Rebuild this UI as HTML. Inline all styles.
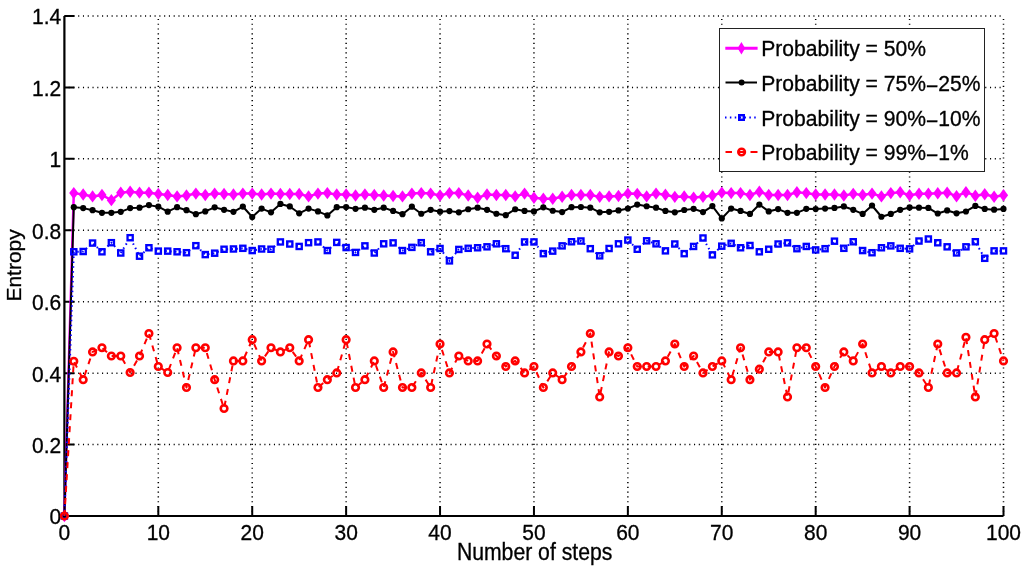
<!DOCTYPE html><html><head><meta charset="utf-8"><style>html,body{margin:0;padding:0;background:#fff;overflow:hidden;}svg{display:block;will-change:transform;}text{font-family:"Liberation Sans",sans-serif;fill:#000;stroke:#000;stroke-width:0.3px;}</style></head><body>
<svg width="1024" height="570" viewBox="0 0 1024 570">
<path d="M158.31 516.0V16.0M252.22 516.0V16.0M346.13 516.0V16.0M440.04 516.0V16.0M533.95 516.0V16.0M627.86 516.0V16.0M721.77 516.0V16.0M815.68 516.0V16.0M909.59 516.0V16.0M1003.50 516.0V16.0M64.4 444.57H1003.5M64.4 373.14H1003.5M64.4 301.71H1003.5M64.4 230.29H1003.5M64.4 158.86H1003.5M64.4 87.43H1003.5M64.4 16.00H1003.5" stroke="#000" stroke-width="1.5" stroke-dasharray="1.1 3.674" stroke-dashoffset="0.55" fill="none"/>
<path d="M64.40 516.0v-10M158.31 516.0v-10M252.22 516.0v-10M346.13 516.0v-10M440.04 516.0v-10M533.95 516.0v-10M627.86 516.0v-10M721.77 516.0v-10M815.68 516.0v-10M909.59 516.0v-10M1003.50 516.0v-10M64.4 516.00h10M64.4 444.57h10M64.4 373.14h10M64.4 301.71h10M64.4 230.29h10M64.4 158.86h10M64.4 87.43h10M64.4 16.00h10" stroke="#000" stroke-width="2" fill="none"/>
<path d="M64.4 16.0V516.0H1003.5" stroke="#000" stroke-width="2.2" fill="none"/>
<text transform="translate(64.40 539.90) scale(1.0 1.045)" font-size="21" text-anchor="middle">0</text>
<text transform="translate(158.31 539.90) scale(1.0 1.045)" font-size="21" text-anchor="middle">10</text>
<text transform="translate(252.22 539.90) scale(1.0 1.045)" font-size="21" text-anchor="middle">20</text>
<text transform="translate(346.13 539.90) scale(1.0 1.045)" font-size="21" text-anchor="middle">30</text>
<text transform="translate(440.04 539.90) scale(1.0 1.045)" font-size="21" text-anchor="middle">40</text>
<text transform="translate(533.95 539.90) scale(1.0 1.045)" font-size="21" text-anchor="middle">50</text>
<text transform="translate(627.86 539.90) scale(1.0 1.045)" font-size="21" text-anchor="middle">60</text>
<text transform="translate(721.77 539.90) scale(1.0 1.045)" font-size="21" text-anchor="middle">70</text>
<text transform="translate(815.68 539.90) scale(1.0 1.045)" font-size="21" text-anchor="middle">80</text>
<text transform="translate(909.59 539.90) scale(1.0 1.045)" font-size="21" text-anchor="middle">90</text>
<text transform="translate(1003.50 539.90) scale(1.0 1.045)" font-size="21" text-anchor="middle">100</text>
<text transform="translate(61.30 524.40) scale(1.0 1.045)" font-size="21" text-anchor="end">0</text>
<text transform="translate(61.30 452.97) scale(1.0 1.045)" font-size="21" text-anchor="end">0.2</text>
<text transform="translate(61.30 381.54) scale(1.0 1.045)" font-size="21" text-anchor="end">0.4</text>
<text transform="translate(61.30 310.11) scale(1.0 1.045)" font-size="21" text-anchor="end">0.6</text>
<text transform="translate(61.30 238.69) scale(1.0 1.045)" font-size="21" text-anchor="end">0.8</text>
<text transform="translate(61.30 167.26) scale(1.0 1.045)" font-size="21" text-anchor="end">1</text>
<text transform="translate(61.30 95.83) scale(1.0 1.045)" font-size="21" text-anchor="end">1.2</text>
<text transform="translate(61.30 24.40) scale(1.0 1.045)" font-size="21" text-anchor="end">1.4</text>
<text transform="translate(534.60 559.50) scale(1.0 1.09)" font-size="21.2" text-anchor="middle">Number of steps</text>
<text transform="translate(21.00 265.40) rotate(-90)" font-size="21.0" text-anchor="middle">Entropy</text>
<path d="M64.40 516.00 L73.79 193.12 L83.18 194.53 L92.57 196.41 L101.96 195.00 L111.36 200.16 L120.75 192.66 L130.14 191.72 L139.53 192.66 L148.92 192.66 L158.31 194.06 L167.70 195.00 L177.09 196.41 L186.48 195.47 L195.87 193.59 L205.27 195.00 L214.66 193.59 L224.05 194.06 L233.44 194.53 L242.83 193.59 L252.22 193.59 L261.61 194.53 L271.00 193.59 L280.39 194.06 L289.78 194.06 L299.18 194.06 L308.57 196.41 L317.96 193.59 L327.35 193.12 L336.74 194.53 L346.13 194.53 L355.52 195.47 L364.91 194.53 L374.30 195.00 L383.69 195.47 L393.09 195.94 L402.48 196.41 L411.87 193.59 L421.26 193.12 L430.65 193.59 L440.04 195.47 L449.43 193.12 L458.82 193.12 L468.21 195.47 L477.60 197.81 L487.00 194.53 L496.39 195.00 L505.78 195.00 L515.17 196.41 L524.56 193.59 L533.95 197.81 L543.34 198.75 L552.73 198.75 L562.12 196.69 L571.51 195.00 L580.90 195.00 L590.30 195.00 L599.69 196.87 L609.08 196.41 L618.47 195.94 L627.86 193.59 L637.25 193.87 L646.64 196.41 L656.03 193.59 L665.42 194.81 L674.81 196.87 L684.21 196.41 L693.60 197.62 L702.99 196.87 L712.38 195.47 L721.77 192.66 L731.16 193.12 L740.55 193.12 L749.94 195.00 L759.33 191.72 L768.73 195.00 L778.12 195.00 L787.51 195.00 L796.90 192.19 L806.29 193.12 L815.68 194.53 L825.07 194.53 L834.46 194.53 L843.85 195.47 L853.24 193.87 L862.63 195.00 L872.03 193.59 L881.42 196.41 L890.81 193.12 L900.20 192.19 L909.59 195.23 L918.98 193.71 L928.37 193.71 L937.76 193.20 L947.15 192.70 L956.54 196.25 L965.94 192.19 L975.33 195.74 L984.72 194.22 L994.11 196.76 L1003.50 195.23" stroke="#f0f" stroke-width="2.5" fill="none" stroke-linejoin="round"/>
<path d="M64.40 509.80L69.00 516.00L64.40 522.20L59.80 516.00Z" fill="#f0f"/>
<path d="M73.79 186.92L78.39 193.12L73.79 199.32L69.19 193.12Z" fill="#f0f"/>
<path d="M83.18 188.33L87.78 194.53L83.18 200.73L78.58 194.53Z" fill="#f0f"/>
<path d="M92.57 190.21L97.17 196.41L92.57 202.61L87.97 196.41Z" fill="#f0f"/>
<path d="M101.96 188.80L106.56 195.00L101.96 201.20L97.36 195.00Z" fill="#f0f"/>
<path d="M111.36 193.96L115.95 200.16L111.36 206.36L106.76 200.16Z" fill="#f0f"/>
<path d="M120.75 186.46L125.35 192.66L120.75 198.86L116.15 192.66Z" fill="#f0f"/>
<path d="M130.14 185.52L134.74 191.72L130.14 197.92L125.54 191.72Z" fill="#f0f"/>
<path d="M139.53 186.46L144.13 192.66L139.53 198.86L134.93 192.66Z" fill="#f0f"/>
<path d="M148.92 186.46L153.52 192.66L148.92 198.86L144.32 192.66Z" fill="#f0f"/>
<path d="M158.31 187.86L162.91 194.06L158.31 200.26L153.71 194.06Z" fill="#f0f"/>
<path d="M167.70 188.80L172.30 195.00L167.70 201.20L163.10 195.00Z" fill="#f0f"/>
<path d="M177.09 190.21L181.69 196.41L177.09 202.61L172.49 196.41Z" fill="#f0f"/>
<path d="M186.48 189.27L191.08 195.47L186.48 201.67L181.88 195.47Z" fill="#f0f"/>
<path d="M195.87 187.39L200.47 193.59L195.87 199.79L191.27 193.59Z" fill="#f0f"/>
<path d="M205.27 188.80L209.87 195.00L205.27 201.20L200.67 195.00Z" fill="#f0f"/>
<path d="M214.66 187.39L219.26 193.59L214.66 199.79L210.06 193.59Z" fill="#f0f"/>
<path d="M224.05 187.86L228.65 194.06L224.05 200.26L219.45 194.06Z" fill="#f0f"/>
<path d="M233.44 188.33L238.04 194.53L233.44 200.73L228.84 194.53Z" fill="#f0f"/>
<path d="M242.83 187.39L247.43 193.59L242.83 199.79L238.23 193.59Z" fill="#f0f"/>
<path d="M252.22 187.39L256.82 193.59L252.22 199.79L247.62 193.59Z" fill="#f0f"/>
<path d="M261.61 188.33L266.21 194.53L261.61 200.73L257.01 194.53Z" fill="#f0f"/>
<path d="M271.00 187.39L275.60 193.59L271.00 199.79L266.40 193.59Z" fill="#f0f"/>
<path d="M280.39 187.86L284.99 194.06L280.39 200.26L275.79 194.06Z" fill="#f0f"/>
<path d="M289.78 187.86L294.38 194.06L289.78 200.26L285.18 194.06Z" fill="#f0f"/>
<path d="M299.18 187.86L303.78 194.06L299.18 200.26L294.57 194.06Z" fill="#f0f"/>
<path d="M308.57 190.21L313.17 196.41L308.57 202.61L303.97 196.41Z" fill="#f0f"/>
<path d="M317.96 187.39L322.56 193.59L317.96 199.79L313.36 193.59Z" fill="#f0f"/>
<path d="M327.35 186.92L331.95 193.12L327.35 199.32L322.75 193.12Z" fill="#f0f"/>
<path d="M336.74 188.33L341.34 194.53L336.74 200.73L332.14 194.53Z" fill="#f0f"/>
<path d="M346.13 188.33L350.73 194.53L346.13 200.73L341.53 194.53Z" fill="#f0f"/>
<path d="M355.52 189.27L360.12 195.47L355.52 201.67L350.92 195.47Z" fill="#f0f"/>
<path d="M364.91 188.33L369.51 194.53L364.91 200.73L360.31 194.53Z" fill="#f0f"/>
<path d="M374.30 188.80L378.90 195.00L374.30 201.20L369.70 195.00Z" fill="#f0f"/>
<path d="M383.69 189.27L388.29 195.47L383.69 201.67L379.09 195.47Z" fill="#f0f"/>
<path d="M393.09 189.74L397.69 195.94L393.09 202.14L388.49 195.94Z" fill="#f0f"/>
<path d="M402.48 190.21L407.08 196.41L402.48 202.61L397.88 196.41Z" fill="#f0f"/>
<path d="M411.87 187.39L416.47 193.59L411.87 199.79L407.27 193.59Z" fill="#f0f"/>
<path d="M421.26 186.92L425.86 193.12L421.26 199.32L416.66 193.12Z" fill="#f0f"/>
<path d="M430.65 187.39L435.25 193.59L430.65 199.79L426.05 193.59Z" fill="#f0f"/>
<path d="M440.04 189.27L444.64 195.47L440.04 201.67L435.44 195.47Z" fill="#f0f"/>
<path d="M449.43 186.92L454.03 193.12L449.43 199.32L444.83 193.12Z" fill="#f0f"/>
<path d="M458.82 186.92L463.42 193.12L458.82 199.32L454.22 193.12Z" fill="#f0f"/>
<path d="M468.21 189.27L472.81 195.47L468.21 201.67L463.61 195.47Z" fill="#f0f"/>
<path d="M477.60 191.61L482.20 197.81L477.60 204.01L473.00 197.81Z" fill="#f0f"/>
<path d="M487.00 188.33L491.60 194.53L487.00 200.73L482.39 194.53Z" fill="#f0f"/>
<path d="M496.39 188.80L500.99 195.00L496.39 201.20L491.79 195.00Z" fill="#f0f"/>
<path d="M505.78 188.80L510.38 195.00L505.78 201.20L501.18 195.00Z" fill="#f0f"/>
<path d="M515.17 190.21L519.77 196.41L515.17 202.61L510.57 196.41Z" fill="#f0f"/>
<path d="M524.56 187.39L529.16 193.59L524.56 199.79L519.96 193.59Z" fill="#f0f"/>
<path d="M533.95 191.61L538.55 197.81L533.95 204.01L529.35 197.81Z" fill="#f0f"/>
<path d="M543.34 192.55L547.94 198.75L543.34 204.95L538.74 198.75Z" fill="#f0f"/>
<path d="M552.73 192.55L557.33 198.75L552.73 204.95L548.13 198.75Z" fill="#f0f"/>
<path d="M562.12 190.49L566.72 196.69L562.12 202.89L557.52 196.69Z" fill="#f0f"/>
<path d="M571.51 188.80L576.11 195.00L571.51 201.20L566.91 195.00Z" fill="#f0f"/>
<path d="M580.90 188.80L585.50 195.00L580.90 201.20L576.30 195.00Z" fill="#f0f"/>
<path d="M590.30 188.80L594.90 195.00L590.30 201.20L585.70 195.00Z" fill="#f0f"/>
<path d="M599.69 190.67L604.29 196.87L599.69 203.07L595.09 196.87Z" fill="#f0f"/>
<path d="M609.08 190.21L613.68 196.41L609.08 202.61L604.48 196.41Z" fill="#f0f"/>
<path d="M618.47 189.74L623.07 195.94L618.47 202.14L613.87 195.94Z" fill="#f0f"/>
<path d="M627.86 187.39L632.46 193.59L627.86 199.79L623.26 193.59Z" fill="#f0f"/>
<path d="M637.25 187.67L641.85 193.87L637.25 200.07L632.65 193.87Z" fill="#f0f"/>
<path d="M646.64 190.21L651.24 196.41L646.64 202.61L642.04 196.41Z" fill="#f0f"/>
<path d="M656.03 187.39L660.63 193.59L656.03 199.79L651.43 193.59Z" fill="#f0f"/>
<path d="M665.42 188.61L670.02 194.81L665.42 201.01L660.82 194.81Z" fill="#f0f"/>
<path d="M674.81 190.67L679.41 196.87L674.81 203.07L670.21 196.87Z" fill="#f0f"/>
<path d="M684.21 190.21L688.81 196.41L684.21 202.61L679.61 196.41Z" fill="#f0f"/>
<path d="M693.60 191.42L698.20 197.62L693.60 203.82L689.00 197.62Z" fill="#f0f"/>
<path d="M702.99 190.67L707.59 196.87L702.99 203.07L698.39 196.87Z" fill="#f0f"/>
<path d="M712.38 189.27L716.98 195.47L712.38 201.67L707.78 195.47Z" fill="#f0f"/>
<path d="M721.77 186.46L726.37 192.66L721.77 198.86L717.17 192.66Z" fill="#f0f"/>
<path d="M731.16 186.92L735.76 193.12L731.16 199.32L726.56 193.12Z" fill="#f0f"/>
<path d="M740.55 186.92L745.15 193.12L740.55 199.32L735.95 193.12Z" fill="#f0f"/>
<path d="M749.94 188.80L754.54 195.00L749.94 201.20L745.34 195.00Z" fill="#f0f"/>
<path d="M759.33 185.52L763.93 191.72L759.33 197.92L754.73 191.72Z" fill="#f0f"/>
<path d="M768.73 188.80L773.33 195.00L768.73 201.20L764.12 195.00Z" fill="#f0f"/>
<path d="M778.12 188.80L782.72 195.00L778.12 201.20L773.52 195.00Z" fill="#f0f"/>
<path d="M787.51 188.80L792.11 195.00L787.51 201.20L782.91 195.00Z" fill="#f0f"/>
<path d="M796.90 185.99L801.50 192.19L796.90 198.39L792.30 192.19Z" fill="#f0f"/>
<path d="M806.29 186.92L810.89 193.12L806.29 199.32L801.69 193.12Z" fill="#f0f"/>
<path d="M815.68 188.33L820.28 194.53L815.68 200.73L811.08 194.53Z" fill="#f0f"/>
<path d="M825.07 188.33L829.67 194.53L825.07 200.73L820.47 194.53Z" fill="#f0f"/>
<path d="M834.46 188.33L839.06 194.53L834.46 200.73L829.86 194.53Z" fill="#f0f"/>
<path d="M843.85 189.27L848.45 195.47L843.85 201.67L839.25 195.47Z" fill="#f0f"/>
<path d="M853.24 187.67L857.84 193.87L853.24 200.07L848.64 193.87Z" fill="#f0f"/>
<path d="M862.63 188.80L867.24 195.00L862.63 201.20L858.03 195.00Z" fill="#f0f"/>
<path d="M872.03 187.39L876.63 193.59L872.03 199.79L867.43 193.59Z" fill="#f0f"/>
<path d="M881.42 190.21L886.02 196.41L881.42 202.61L876.82 196.41Z" fill="#f0f"/>
<path d="M890.81 186.92L895.41 193.12L890.81 199.32L886.21 193.12Z" fill="#f0f"/>
<path d="M900.20 185.99L904.80 192.19L900.20 198.39L895.60 192.19Z" fill="#f0f"/>
<path d="M909.59 189.03L914.19 195.23L909.59 201.43L904.99 195.23Z" fill="#f0f"/>
<path d="M918.98 187.51L923.58 193.71L918.98 199.91L914.38 193.71Z" fill="#f0f"/>
<path d="M928.37 187.51L932.97 193.71L928.37 199.91L923.77 193.71Z" fill="#f0f"/>
<path d="M937.76 187.00L942.36 193.20L937.76 199.40L933.16 193.20Z" fill="#f0f"/>
<path d="M947.15 186.50L951.75 192.70L947.15 198.90L942.55 192.70Z" fill="#f0f"/>
<path d="M956.54 190.05L961.14 196.25L956.54 202.45L951.94 196.25Z" fill="#f0f"/>
<path d="M965.94 185.99L970.54 192.19L965.94 198.39L961.34 192.19Z" fill="#f0f"/>
<path d="M975.33 189.54L979.93 195.74L975.33 201.94L970.73 195.74Z" fill="#f0f"/>
<path d="M984.72 188.02L989.32 194.22L984.72 200.42L980.12 194.22Z" fill="#f0f"/>
<path d="M994.11 190.56L998.71 196.76L994.11 202.96L989.51 196.76Z" fill="#f0f"/>
<path d="M1003.50 189.03L1008.10 195.23L1003.50 201.43L998.90 195.23Z" fill="#f0f"/>
<path d="M64.40 516.00 L73.79 207.19 L83.18 208.12 L92.57 210.19 L101.96 212.81 L111.36 212.81 L120.75 211.87 L130.14 208.12 L139.53 207.66 L148.92 205.12 L158.31 206.72 L167.70 211.69 L177.09 207.19 L186.48 210.19 L195.87 214.22 L205.27 211.41 L214.66 207.37 L224.05 209.81 L233.44 211.87 L242.83 206.53 L252.22 217.03 L261.61 208.59 L271.00 212.34 L280.39 203.91 L289.78 206.44 L299.18 213.28 L308.57 208.59 L317.96 211.41 L327.35 215.44 L336.74 207.19 L346.13 207.00 L355.52 208.87 L364.91 207.66 L374.30 209.81 L383.69 207.66 L393.09 210.94 L402.48 214.22 L411.87 206.72 L421.26 213.75 L430.65 209.81 L440.04 211.69 L449.43 211.12 L458.82 212.34 L468.21 209.25 L477.60 207.66 L487.00 209.81 L496.39 213.75 L505.78 215.16 L515.17 209.25 L524.56 210.94 L533.95 211.41 L543.34 207.37 L552.73 210.75 L562.12 212.06 L571.51 207.19 L580.90 207.00 L590.30 207.66 L599.69 212.34 L609.08 211.87 L618.47 210.47 L627.86 208.59 L637.25 204.56 L646.64 206.25 L656.03 207.66 L665.42 210.94 L674.81 212.34 L684.21 210.00 L693.60 208.87 L702.99 212.06 L712.38 206.06 L721.77 218.44 L731.16 208.59 L740.55 210.94 L749.94 213.94 L759.33 204.56 L768.73 211.41 L778.12 209.06 L787.51 212.81 L796.90 212.81 L806.29 208.87 L815.68 209.06 L825.07 208.59 L834.46 207.94 L843.85 206.44 L853.24 209.81 L862.63 213.94 L872.03 205.50 L881.42 216.75 L890.81 213.94 L900.20 209.81 L909.59 207.42 L918.98 207.63 L928.37 207.93 L937.76 213.52 L947.15 210.47 L956.54 213.31 L965.94 211.48 L975.33 205.90 L984.72 208.95 L994.11 209.66 L1003.50 208.95" stroke="#000" stroke-width="2" fill="none" stroke-linejoin="round"/>
<circle cx="64.40" cy="516.00" r="3.1" fill="#000"/>
<circle cx="73.79" cy="207.19" r="3.1" fill="#000"/>
<circle cx="83.18" cy="208.12" r="3.1" fill="#000"/>
<circle cx="92.57" cy="210.19" r="3.1" fill="#000"/>
<circle cx="101.96" cy="212.81" r="3.1" fill="#000"/>
<circle cx="111.36" cy="212.81" r="3.1" fill="#000"/>
<circle cx="120.75" cy="211.87" r="3.1" fill="#000"/>
<circle cx="130.14" cy="208.12" r="3.1" fill="#000"/>
<circle cx="139.53" cy="207.66" r="3.1" fill="#000"/>
<circle cx="148.92" cy="205.12" r="3.1" fill="#000"/>
<circle cx="158.31" cy="206.72" r="3.1" fill="#000"/>
<circle cx="167.70" cy="211.69" r="3.1" fill="#000"/>
<circle cx="177.09" cy="207.19" r="3.1" fill="#000"/>
<circle cx="186.48" cy="210.19" r="3.1" fill="#000"/>
<circle cx="195.87" cy="214.22" r="3.1" fill="#000"/>
<circle cx="205.27" cy="211.41" r="3.1" fill="#000"/>
<circle cx="214.66" cy="207.37" r="3.1" fill="#000"/>
<circle cx="224.05" cy="209.81" r="3.1" fill="#000"/>
<circle cx="233.44" cy="211.87" r="3.1" fill="#000"/>
<circle cx="242.83" cy="206.53" r="3.1" fill="#000"/>
<circle cx="252.22" cy="217.03" r="3.1" fill="#000"/>
<circle cx="261.61" cy="208.59" r="3.1" fill="#000"/>
<circle cx="271.00" cy="212.34" r="3.1" fill="#000"/>
<circle cx="280.39" cy="203.91" r="3.1" fill="#000"/>
<circle cx="289.78" cy="206.44" r="3.1" fill="#000"/>
<circle cx="299.18" cy="213.28" r="3.1" fill="#000"/>
<circle cx="308.57" cy="208.59" r="3.1" fill="#000"/>
<circle cx="317.96" cy="211.41" r="3.1" fill="#000"/>
<circle cx="327.35" cy="215.44" r="3.1" fill="#000"/>
<circle cx="336.74" cy="207.19" r="3.1" fill="#000"/>
<circle cx="346.13" cy="207.00" r="3.1" fill="#000"/>
<circle cx="355.52" cy="208.87" r="3.1" fill="#000"/>
<circle cx="364.91" cy="207.66" r="3.1" fill="#000"/>
<circle cx="374.30" cy="209.81" r="3.1" fill="#000"/>
<circle cx="383.69" cy="207.66" r="3.1" fill="#000"/>
<circle cx="393.09" cy="210.94" r="3.1" fill="#000"/>
<circle cx="402.48" cy="214.22" r="3.1" fill="#000"/>
<circle cx="411.87" cy="206.72" r="3.1" fill="#000"/>
<circle cx="421.26" cy="213.75" r="3.1" fill="#000"/>
<circle cx="430.65" cy="209.81" r="3.1" fill="#000"/>
<circle cx="440.04" cy="211.69" r="3.1" fill="#000"/>
<circle cx="449.43" cy="211.12" r="3.1" fill="#000"/>
<circle cx="458.82" cy="212.34" r="3.1" fill="#000"/>
<circle cx="468.21" cy="209.25" r="3.1" fill="#000"/>
<circle cx="477.60" cy="207.66" r="3.1" fill="#000"/>
<circle cx="487.00" cy="209.81" r="3.1" fill="#000"/>
<circle cx="496.39" cy="213.75" r="3.1" fill="#000"/>
<circle cx="505.78" cy="215.16" r="3.1" fill="#000"/>
<circle cx="515.17" cy="209.25" r="3.1" fill="#000"/>
<circle cx="524.56" cy="210.94" r="3.1" fill="#000"/>
<circle cx="533.95" cy="211.41" r="3.1" fill="#000"/>
<circle cx="543.34" cy="207.37" r="3.1" fill="#000"/>
<circle cx="552.73" cy="210.75" r="3.1" fill="#000"/>
<circle cx="562.12" cy="212.06" r="3.1" fill="#000"/>
<circle cx="571.51" cy="207.19" r="3.1" fill="#000"/>
<circle cx="580.90" cy="207.00" r="3.1" fill="#000"/>
<circle cx="590.30" cy="207.66" r="3.1" fill="#000"/>
<circle cx="599.69" cy="212.34" r="3.1" fill="#000"/>
<circle cx="609.08" cy="211.87" r="3.1" fill="#000"/>
<circle cx="618.47" cy="210.47" r="3.1" fill="#000"/>
<circle cx="627.86" cy="208.59" r="3.1" fill="#000"/>
<circle cx="637.25" cy="204.56" r="3.1" fill="#000"/>
<circle cx="646.64" cy="206.25" r="3.1" fill="#000"/>
<circle cx="656.03" cy="207.66" r="3.1" fill="#000"/>
<circle cx="665.42" cy="210.94" r="3.1" fill="#000"/>
<circle cx="674.81" cy="212.34" r="3.1" fill="#000"/>
<circle cx="684.21" cy="210.00" r="3.1" fill="#000"/>
<circle cx="693.60" cy="208.87" r="3.1" fill="#000"/>
<circle cx="702.99" cy="212.06" r="3.1" fill="#000"/>
<circle cx="712.38" cy="206.06" r="3.1" fill="#000"/>
<circle cx="721.77" cy="218.44" r="3.1" fill="#000"/>
<circle cx="731.16" cy="208.59" r="3.1" fill="#000"/>
<circle cx="740.55" cy="210.94" r="3.1" fill="#000"/>
<circle cx="749.94" cy="213.94" r="3.1" fill="#000"/>
<circle cx="759.33" cy="204.56" r="3.1" fill="#000"/>
<circle cx="768.73" cy="211.41" r="3.1" fill="#000"/>
<circle cx="778.12" cy="209.06" r="3.1" fill="#000"/>
<circle cx="787.51" cy="212.81" r="3.1" fill="#000"/>
<circle cx="796.90" cy="212.81" r="3.1" fill="#000"/>
<circle cx="806.29" cy="208.87" r="3.1" fill="#000"/>
<circle cx="815.68" cy="209.06" r="3.1" fill="#000"/>
<circle cx="825.07" cy="208.59" r="3.1" fill="#000"/>
<circle cx="834.46" cy="207.94" r="3.1" fill="#000"/>
<circle cx="843.85" cy="206.44" r="3.1" fill="#000"/>
<circle cx="853.24" cy="209.81" r="3.1" fill="#000"/>
<circle cx="862.63" cy="213.94" r="3.1" fill="#000"/>
<circle cx="872.03" cy="205.50" r="3.1" fill="#000"/>
<circle cx="881.42" cy="216.75" r="3.1" fill="#000"/>
<circle cx="890.81" cy="213.94" r="3.1" fill="#000"/>
<circle cx="900.20" cy="209.81" r="3.1" fill="#000"/>
<circle cx="909.59" cy="207.42" r="3.1" fill="#000"/>
<circle cx="918.98" cy="207.63" r="3.1" fill="#000"/>
<circle cx="928.37" cy="207.93" r="3.1" fill="#000"/>
<circle cx="937.76" cy="213.52" r="3.1" fill="#000"/>
<circle cx="947.15" cy="210.47" r="3.1" fill="#000"/>
<circle cx="956.54" cy="213.31" r="3.1" fill="#000"/>
<circle cx="965.94" cy="211.48" r="3.1" fill="#000"/>
<circle cx="975.33" cy="205.90" r="3.1" fill="#000"/>
<circle cx="984.72" cy="208.95" r="3.1" fill="#000"/>
<circle cx="994.11" cy="209.66" r="3.1" fill="#000"/>
<circle cx="1003.50" cy="208.95" r="3.1" fill="#000"/>
<path d="M64.40 516.00 L73.79 251.78 L83.18 251.50 L92.57 243.06 L101.96 251.78 L111.36 242.69 L120.75 253.00 L130.14 237.72 L139.53 256.19 L148.92 247.75 L158.31 251.12 L167.70 251.12 L177.09 251.78 L186.48 252.72 L195.87 245.69 L205.27 254.59 L214.66 253.19 L224.05 249.25 L233.44 248.97 L242.83 248.31 L252.22 250.56 L261.61 248.97 L271.00 249.25 L280.39 241.94 L289.78 244.00 L299.18 246.44 L308.57 242.69 L317.96 241.94 L327.35 250.56 L336.74 242.41 L346.13 247.56 L355.52 252.44 L364.91 245.87 L374.30 253.00 L383.69 243.81 L393.09 242.87 L402.48 250.56 L411.87 247.37 L421.26 242.69 L430.65 251.78 L440.04 248.50 L449.43 260.87 L458.82 249.44 L468.21 248.31 L477.60 247.75 L487.00 246.81 L496.39 243.81 L505.78 248.69 L515.17 255.25 L524.56 241.94 L533.95 241.94 L543.34 253.66 L552.73 251.12 L562.12 245.87 L571.51 241.75 L580.90 241.00 L590.30 248.69 L599.69 255.81 L609.08 248.50 L618.47 243.81 L627.86 240.06 L637.25 249.25 L646.64 240.81 L656.03 243.81 L665.42 250.84 L674.81 244.00 L684.21 253.66 L693.60 246.44 L702.99 238.00 L712.38 254.87 L721.77 246.16 L731.16 243.34 L740.55 247.75 L749.94 245.50 L759.33 251.78 L768.73 249.25 L778.12 244.00 L787.51 242.87 L796.90 248.69 L806.29 246.44 L815.68 249.91 L825.07 248.69 L834.46 241.19 L843.85 248.31 L853.24 241.75 L862.63 250.56 L872.03 252.72 L881.42 247.75 L890.81 245.87 L900.20 248.31 L909.59 248.85 L918.98 241.03 L928.37 239.00 L937.76 242.76 L947.15 246.82 L956.54 252.91 L965.94 246.82 L975.33 241.74 L984.72 258.30 L994.11 250.88 L1003.50 250.88" stroke="#00f" stroke-width="2" fill="none" stroke-linejoin="round" stroke-dasharray="1.5 3.37"/>
<rect x="61.80" y="513.40" width="5.2" height="5.2" fill="none" stroke="#00f" stroke-width="2.3"/>
<rect x="71.19" y="249.18" width="5.2" height="5.2" fill="none" stroke="#00f" stroke-width="2.3"/>
<rect x="80.58" y="248.90" width="5.2" height="5.2" fill="none" stroke="#00f" stroke-width="2.3"/>
<rect x="89.97" y="240.46" width="5.2" height="5.2" fill="none" stroke="#00f" stroke-width="2.3"/>
<rect x="99.36" y="249.18" width="5.2" height="5.2" fill="none" stroke="#00f" stroke-width="2.3"/>
<rect x="108.76" y="240.09" width="5.2" height="5.2" fill="none" stroke="#00f" stroke-width="2.3"/>
<rect x="118.15" y="250.40" width="5.2" height="5.2" fill="none" stroke="#00f" stroke-width="2.3"/>
<rect x="127.54" y="235.12" width="5.2" height="5.2" fill="none" stroke="#00f" stroke-width="2.3"/>
<rect x="136.93" y="253.59" width="5.2" height="5.2" fill="none" stroke="#00f" stroke-width="2.3"/>
<rect x="146.32" y="245.15" width="5.2" height="5.2" fill="none" stroke="#00f" stroke-width="2.3"/>
<rect x="155.71" y="248.52" width="5.2" height="5.2" fill="none" stroke="#00f" stroke-width="2.3"/>
<rect x="165.10" y="248.52" width="5.2" height="5.2" fill="none" stroke="#00f" stroke-width="2.3"/>
<rect x="174.49" y="249.18" width="5.2" height="5.2" fill="none" stroke="#00f" stroke-width="2.3"/>
<rect x="183.88" y="250.12" width="5.2" height="5.2" fill="none" stroke="#00f" stroke-width="2.3"/>
<rect x="193.27" y="243.09" width="5.2" height="5.2" fill="none" stroke="#00f" stroke-width="2.3"/>
<rect x="202.67" y="251.99" width="5.2" height="5.2" fill="none" stroke="#00f" stroke-width="2.3"/>
<rect x="212.06" y="250.59" width="5.2" height="5.2" fill="none" stroke="#00f" stroke-width="2.3"/>
<rect x="221.45" y="246.65" width="5.2" height="5.2" fill="none" stroke="#00f" stroke-width="2.3"/>
<rect x="230.84" y="246.37" width="5.2" height="5.2" fill="none" stroke="#00f" stroke-width="2.3"/>
<rect x="240.23" y="245.71" width="5.2" height="5.2" fill="none" stroke="#00f" stroke-width="2.3"/>
<rect x="249.62" y="247.96" width="5.2" height="5.2" fill="none" stroke="#00f" stroke-width="2.3"/>
<rect x="259.01" y="246.37" width="5.2" height="5.2" fill="none" stroke="#00f" stroke-width="2.3"/>
<rect x="268.40" y="246.65" width="5.2" height="5.2" fill="none" stroke="#00f" stroke-width="2.3"/>
<rect x="277.79" y="239.34" width="5.2" height="5.2" fill="none" stroke="#00f" stroke-width="2.3"/>
<rect x="287.18" y="241.40" width="5.2" height="5.2" fill="none" stroke="#00f" stroke-width="2.3"/>
<rect x="296.57" y="243.84" width="5.2" height="5.2" fill="none" stroke="#00f" stroke-width="2.3"/>
<rect x="305.97" y="240.09" width="5.2" height="5.2" fill="none" stroke="#00f" stroke-width="2.3"/>
<rect x="315.36" y="239.34" width="5.2" height="5.2" fill="none" stroke="#00f" stroke-width="2.3"/>
<rect x="324.75" y="247.96" width="5.2" height="5.2" fill="none" stroke="#00f" stroke-width="2.3"/>
<rect x="334.14" y="239.81" width="5.2" height="5.2" fill="none" stroke="#00f" stroke-width="2.3"/>
<rect x="343.53" y="244.96" width="5.2" height="5.2" fill="none" stroke="#00f" stroke-width="2.3"/>
<rect x="352.92" y="249.84" width="5.2" height="5.2" fill="none" stroke="#00f" stroke-width="2.3"/>
<rect x="362.31" y="243.27" width="5.2" height="5.2" fill="none" stroke="#00f" stroke-width="2.3"/>
<rect x="371.70" y="250.40" width="5.2" height="5.2" fill="none" stroke="#00f" stroke-width="2.3"/>
<rect x="381.09" y="241.21" width="5.2" height="5.2" fill="none" stroke="#00f" stroke-width="2.3"/>
<rect x="390.49" y="240.27" width="5.2" height="5.2" fill="none" stroke="#00f" stroke-width="2.3"/>
<rect x="399.88" y="247.96" width="5.2" height="5.2" fill="none" stroke="#00f" stroke-width="2.3"/>
<rect x="409.27" y="244.77" width="5.2" height="5.2" fill="none" stroke="#00f" stroke-width="2.3"/>
<rect x="418.66" y="240.09" width="5.2" height="5.2" fill="none" stroke="#00f" stroke-width="2.3"/>
<rect x="428.05" y="249.18" width="5.2" height="5.2" fill="none" stroke="#00f" stroke-width="2.3"/>
<rect x="437.44" y="245.90" width="5.2" height="5.2" fill="none" stroke="#00f" stroke-width="2.3"/>
<rect x="446.83" y="258.27" width="5.2" height="5.2" fill="none" stroke="#00f" stroke-width="2.3"/>
<rect x="456.22" y="246.84" width="5.2" height="5.2" fill="none" stroke="#00f" stroke-width="2.3"/>
<rect x="465.61" y="245.71" width="5.2" height="5.2" fill="none" stroke="#00f" stroke-width="2.3"/>
<rect x="475.00" y="245.15" width="5.2" height="5.2" fill="none" stroke="#00f" stroke-width="2.3"/>
<rect x="484.39" y="244.21" width="5.2" height="5.2" fill="none" stroke="#00f" stroke-width="2.3"/>
<rect x="493.79" y="241.21" width="5.2" height="5.2" fill="none" stroke="#00f" stroke-width="2.3"/>
<rect x="503.18" y="246.09" width="5.2" height="5.2" fill="none" stroke="#00f" stroke-width="2.3"/>
<rect x="512.57" y="252.65" width="5.2" height="5.2" fill="none" stroke="#00f" stroke-width="2.3"/>
<rect x="521.96" y="239.34" width="5.2" height="5.2" fill="none" stroke="#00f" stroke-width="2.3"/>
<rect x="531.35" y="239.34" width="5.2" height="5.2" fill="none" stroke="#00f" stroke-width="2.3"/>
<rect x="540.74" y="251.06" width="5.2" height="5.2" fill="none" stroke="#00f" stroke-width="2.3"/>
<rect x="550.13" y="248.52" width="5.2" height="5.2" fill="none" stroke="#00f" stroke-width="2.3"/>
<rect x="559.52" y="243.27" width="5.2" height="5.2" fill="none" stroke="#00f" stroke-width="2.3"/>
<rect x="568.91" y="239.15" width="5.2" height="5.2" fill="none" stroke="#00f" stroke-width="2.3"/>
<rect x="578.30" y="238.40" width="5.2" height="5.2" fill="none" stroke="#00f" stroke-width="2.3"/>
<rect x="587.70" y="246.09" width="5.2" height="5.2" fill="none" stroke="#00f" stroke-width="2.3"/>
<rect x="597.09" y="253.21" width="5.2" height="5.2" fill="none" stroke="#00f" stroke-width="2.3"/>
<rect x="606.48" y="245.90" width="5.2" height="5.2" fill="none" stroke="#00f" stroke-width="2.3"/>
<rect x="615.87" y="241.21" width="5.2" height="5.2" fill="none" stroke="#00f" stroke-width="2.3"/>
<rect x="625.26" y="237.46" width="5.2" height="5.2" fill="none" stroke="#00f" stroke-width="2.3"/>
<rect x="634.65" y="246.65" width="5.2" height="5.2" fill="none" stroke="#00f" stroke-width="2.3"/>
<rect x="644.04" y="238.21" width="5.2" height="5.2" fill="none" stroke="#00f" stroke-width="2.3"/>
<rect x="653.43" y="241.21" width="5.2" height="5.2" fill="none" stroke="#00f" stroke-width="2.3"/>
<rect x="662.82" y="248.24" width="5.2" height="5.2" fill="none" stroke="#00f" stroke-width="2.3"/>
<rect x="672.21" y="241.40" width="5.2" height="5.2" fill="none" stroke="#00f" stroke-width="2.3"/>
<rect x="681.61" y="251.06" width="5.2" height="5.2" fill="none" stroke="#00f" stroke-width="2.3"/>
<rect x="691.00" y="243.84" width="5.2" height="5.2" fill="none" stroke="#00f" stroke-width="2.3"/>
<rect x="700.39" y="235.40" width="5.2" height="5.2" fill="none" stroke="#00f" stroke-width="2.3"/>
<rect x="709.78" y="252.27" width="5.2" height="5.2" fill="none" stroke="#00f" stroke-width="2.3"/>
<rect x="719.17" y="243.56" width="5.2" height="5.2" fill="none" stroke="#00f" stroke-width="2.3"/>
<rect x="728.56" y="240.74" width="5.2" height="5.2" fill="none" stroke="#00f" stroke-width="2.3"/>
<rect x="737.95" y="245.15" width="5.2" height="5.2" fill="none" stroke="#00f" stroke-width="2.3"/>
<rect x="747.34" y="242.90" width="5.2" height="5.2" fill="none" stroke="#00f" stroke-width="2.3"/>
<rect x="756.73" y="249.18" width="5.2" height="5.2" fill="none" stroke="#00f" stroke-width="2.3"/>
<rect x="766.12" y="246.65" width="5.2" height="5.2" fill="none" stroke="#00f" stroke-width="2.3"/>
<rect x="775.52" y="241.40" width="5.2" height="5.2" fill="none" stroke="#00f" stroke-width="2.3"/>
<rect x="784.91" y="240.27" width="5.2" height="5.2" fill="none" stroke="#00f" stroke-width="2.3"/>
<rect x="794.30" y="246.09" width="5.2" height="5.2" fill="none" stroke="#00f" stroke-width="2.3"/>
<rect x="803.69" y="243.84" width="5.2" height="5.2" fill="none" stroke="#00f" stroke-width="2.3"/>
<rect x="813.08" y="247.31" width="5.2" height="5.2" fill="none" stroke="#00f" stroke-width="2.3"/>
<rect x="822.47" y="246.09" width="5.2" height="5.2" fill="none" stroke="#00f" stroke-width="2.3"/>
<rect x="831.86" y="238.59" width="5.2" height="5.2" fill="none" stroke="#00f" stroke-width="2.3"/>
<rect x="841.25" y="245.71" width="5.2" height="5.2" fill="none" stroke="#00f" stroke-width="2.3"/>
<rect x="850.64" y="239.15" width="5.2" height="5.2" fill="none" stroke="#00f" stroke-width="2.3"/>
<rect x="860.03" y="247.96" width="5.2" height="5.2" fill="none" stroke="#00f" stroke-width="2.3"/>
<rect x="869.43" y="250.12" width="5.2" height="5.2" fill="none" stroke="#00f" stroke-width="2.3"/>
<rect x="878.82" y="245.15" width="5.2" height="5.2" fill="none" stroke="#00f" stroke-width="2.3"/>
<rect x="888.21" y="243.27" width="5.2" height="5.2" fill="none" stroke="#00f" stroke-width="2.3"/>
<rect x="897.60" y="245.71" width="5.2" height="5.2" fill="none" stroke="#00f" stroke-width="2.3"/>
<rect x="906.99" y="246.25" width="5.2" height="5.2" fill="none" stroke="#00f" stroke-width="2.3"/>
<rect x="916.38" y="238.43" width="5.2" height="5.2" fill="none" stroke="#00f" stroke-width="2.3"/>
<rect x="925.77" y="236.40" width="5.2" height="5.2" fill="none" stroke="#00f" stroke-width="2.3"/>
<rect x="935.16" y="240.16" width="5.2" height="5.2" fill="none" stroke="#00f" stroke-width="2.3"/>
<rect x="944.55" y="244.22" width="5.2" height="5.2" fill="none" stroke="#00f" stroke-width="2.3"/>
<rect x="953.94" y="250.31" width="5.2" height="5.2" fill="none" stroke="#00f" stroke-width="2.3"/>
<rect x="963.34" y="244.22" width="5.2" height="5.2" fill="none" stroke="#00f" stroke-width="2.3"/>
<rect x="972.73" y="239.14" width="5.2" height="5.2" fill="none" stroke="#00f" stroke-width="2.3"/>
<rect x="982.12" y="255.70" width="5.2" height="5.2" fill="none" stroke="#00f" stroke-width="2.3"/>
<rect x="991.51" y="248.28" width="5.2" height="5.2" fill="none" stroke="#00f" stroke-width="2.3"/>
<rect x="1000.90" y="248.28" width="5.2" height="5.2" fill="none" stroke="#00f" stroke-width="2.3"/>
<path d="M64.40 516.00 L73.79 361.25 L83.18 379.63 L92.57 351.88 L101.96 347.75 L111.36 356.00 L120.75 356.00 L130.14 372.50 L139.53 356.00 L148.92 333.50 L158.31 366.50 L167.70 372.50 L177.09 347.75 L186.48 387.50 L195.87 347.75 L205.27 347.75 L214.66 379.63 L224.05 408.50 L233.44 360.88 L242.83 360.88 L252.22 339.69 L261.61 360.88 L271.00 347.75 L280.39 351.88 L289.78 347.75 L299.18 360.88 L308.57 339.69 L317.96 387.50 L327.35 379.63 L336.74 372.88 L346.13 339.69 L355.52 387.50 L364.91 379.63 L374.30 360.88 L383.69 387.50 L393.09 351.88 L402.48 387.50 L411.87 387.50 L421.26 372.88 L430.65 387.50 L440.04 344.00 L449.43 372.88 L458.82 356.00 L468.21 360.88 L477.60 360.88 L487.00 344.00 L496.39 356.00 L505.78 366.50 L515.17 360.88 L524.56 372.88 L533.95 366.50 L543.34 387.50 L552.73 372.88 L562.12 379.63 L571.51 366.50 L580.90 351.88 L590.30 333.50 L599.69 396.88 L609.08 351.88 L618.47 356.00 L627.86 347.75 L637.25 366.50 L646.64 366.50 L656.03 366.50 L665.42 360.88 L674.81 344.00 L684.21 366.50 L693.60 356.00 L702.99 372.88 L712.38 366.50 L721.77 360.88 L731.16 379.63 L740.55 347.75 L749.94 379.63 L759.33 369.13 L768.73 351.88 L778.12 351.88 L787.51 396.88 L796.90 347.75 L806.29 347.75 L815.68 366.50 L825.07 387.50 L834.46 366.50 L843.85 351.88 L853.24 360.88 L862.63 344.00 L872.03 372.88 L881.42 366.50 L890.81 372.88 L900.20 366.50 L909.59 366.50 L918.98 372.88 L928.37 387.50 L937.76 344.00 L947.15 372.88 L956.54 372.88 L965.94 337.25 L975.33 396.88 L984.72 339.69 L994.11 333.50 L1003.50 360.88" stroke="#f00" stroke-width="2" fill="none" stroke-linejoin="round" stroke-dasharray="6 6"/>
<circle cx="64.40" cy="516.00" r="3.3" fill="none" stroke="#f00" stroke-width="2.6"/>
<circle cx="73.79" cy="361.25" r="3.3" fill="none" stroke="#f00" stroke-width="2.6"/>
<circle cx="83.18" cy="379.63" r="3.3" fill="none" stroke="#f00" stroke-width="2.6"/>
<circle cx="92.57" cy="351.88" r="3.3" fill="none" stroke="#f00" stroke-width="2.6"/>
<circle cx="101.96" cy="347.75" r="3.3" fill="none" stroke="#f00" stroke-width="2.6"/>
<circle cx="111.36" cy="356.00" r="3.3" fill="none" stroke="#f00" stroke-width="2.6"/>
<circle cx="120.75" cy="356.00" r="3.3" fill="none" stroke="#f00" stroke-width="2.6"/>
<circle cx="130.14" cy="372.50" r="3.3" fill="none" stroke="#f00" stroke-width="2.6"/>
<circle cx="139.53" cy="356.00" r="3.3" fill="none" stroke="#f00" stroke-width="2.6"/>
<circle cx="148.92" cy="333.50" r="3.3" fill="none" stroke="#f00" stroke-width="2.6"/>
<circle cx="158.31" cy="366.50" r="3.3" fill="none" stroke="#f00" stroke-width="2.6"/>
<circle cx="167.70" cy="372.50" r="3.3" fill="none" stroke="#f00" stroke-width="2.6"/>
<circle cx="177.09" cy="347.75" r="3.3" fill="none" stroke="#f00" stroke-width="2.6"/>
<circle cx="186.48" cy="387.50" r="3.3" fill="none" stroke="#f00" stroke-width="2.6"/>
<circle cx="195.87" cy="347.75" r="3.3" fill="none" stroke="#f00" stroke-width="2.6"/>
<circle cx="205.27" cy="347.75" r="3.3" fill="none" stroke="#f00" stroke-width="2.6"/>
<circle cx="214.66" cy="379.63" r="3.3" fill="none" stroke="#f00" stroke-width="2.6"/>
<circle cx="224.05" cy="408.50" r="3.3" fill="none" stroke="#f00" stroke-width="2.6"/>
<circle cx="233.44" cy="360.88" r="3.3" fill="none" stroke="#f00" stroke-width="2.6"/>
<circle cx="242.83" cy="360.88" r="3.3" fill="none" stroke="#f00" stroke-width="2.6"/>
<circle cx="252.22" cy="339.69" r="3.3" fill="none" stroke="#f00" stroke-width="2.6"/>
<circle cx="261.61" cy="360.88" r="3.3" fill="none" stroke="#f00" stroke-width="2.6"/>
<circle cx="271.00" cy="347.75" r="3.3" fill="none" stroke="#f00" stroke-width="2.6"/>
<circle cx="280.39" cy="351.88" r="3.3" fill="none" stroke="#f00" stroke-width="2.6"/>
<circle cx="289.78" cy="347.75" r="3.3" fill="none" stroke="#f00" stroke-width="2.6"/>
<circle cx="299.18" cy="360.88" r="3.3" fill="none" stroke="#f00" stroke-width="2.6"/>
<circle cx="308.57" cy="339.69" r="3.3" fill="none" stroke="#f00" stroke-width="2.6"/>
<circle cx="317.96" cy="387.50" r="3.3" fill="none" stroke="#f00" stroke-width="2.6"/>
<circle cx="327.35" cy="379.63" r="3.3" fill="none" stroke="#f00" stroke-width="2.6"/>
<circle cx="336.74" cy="372.88" r="3.3" fill="none" stroke="#f00" stroke-width="2.6"/>
<circle cx="346.13" cy="339.69" r="3.3" fill="none" stroke="#f00" stroke-width="2.6"/>
<circle cx="355.52" cy="387.50" r="3.3" fill="none" stroke="#f00" stroke-width="2.6"/>
<circle cx="364.91" cy="379.63" r="3.3" fill="none" stroke="#f00" stroke-width="2.6"/>
<circle cx="374.30" cy="360.88" r="3.3" fill="none" stroke="#f00" stroke-width="2.6"/>
<circle cx="383.69" cy="387.50" r="3.3" fill="none" stroke="#f00" stroke-width="2.6"/>
<circle cx="393.09" cy="351.88" r="3.3" fill="none" stroke="#f00" stroke-width="2.6"/>
<circle cx="402.48" cy="387.50" r="3.3" fill="none" stroke="#f00" stroke-width="2.6"/>
<circle cx="411.87" cy="387.50" r="3.3" fill="none" stroke="#f00" stroke-width="2.6"/>
<circle cx="421.26" cy="372.88" r="3.3" fill="none" stroke="#f00" stroke-width="2.6"/>
<circle cx="430.65" cy="387.50" r="3.3" fill="none" stroke="#f00" stroke-width="2.6"/>
<circle cx="440.04" cy="344.00" r="3.3" fill="none" stroke="#f00" stroke-width="2.6"/>
<circle cx="449.43" cy="372.88" r="3.3" fill="none" stroke="#f00" stroke-width="2.6"/>
<circle cx="458.82" cy="356.00" r="3.3" fill="none" stroke="#f00" stroke-width="2.6"/>
<circle cx="468.21" cy="360.88" r="3.3" fill="none" stroke="#f00" stroke-width="2.6"/>
<circle cx="477.60" cy="360.88" r="3.3" fill="none" stroke="#f00" stroke-width="2.6"/>
<circle cx="487.00" cy="344.00" r="3.3" fill="none" stroke="#f00" stroke-width="2.6"/>
<circle cx="496.39" cy="356.00" r="3.3" fill="none" stroke="#f00" stroke-width="2.6"/>
<circle cx="505.78" cy="366.50" r="3.3" fill="none" stroke="#f00" stroke-width="2.6"/>
<circle cx="515.17" cy="360.88" r="3.3" fill="none" stroke="#f00" stroke-width="2.6"/>
<circle cx="524.56" cy="372.88" r="3.3" fill="none" stroke="#f00" stroke-width="2.6"/>
<circle cx="533.95" cy="366.50" r="3.3" fill="none" stroke="#f00" stroke-width="2.6"/>
<circle cx="543.34" cy="387.50" r="3.3" fill="none" stroke="#f00" stroke-width="2.6"/>
<circle cx="552.73" cy="372.88" r="3.3" fill="none" stroke="#f00" stroke-width="2.6"/>
<circle cx="562.12" cy="379.63" r="3.3" fill="none" stroke="#f00" stroke-width="2.6"/>
<circle cx="571.51" cy="366.50" r="3.3" fill="none" stroke="#f00" stroke-width="2.6"/>
<circle cx="580.90" cy="351.88" r="3.3" fill="none" stroke="#f00" stroke-width="2.6"/>
<circle cx="590.30" cy="333.50" r="3.3" fill="none" stroke="#f00" stroke-width="2.6"/>
<circle cx="599.69" cy="396.88" r="3.3" fill="none" stroke="#f00" stroke-width="2.6"/>
<circle cx="609.08" cy="351.88" r="3.3" fill="none" stroke="#f00" stroke-width="2.6"/>
<circle cx="618.47" cy="356.00" r="3.3" fill="none" stroke="#f00" stroke-width="2.6"/>
<circle cx="627.86" cy="347.75" r="3.3" fill="none" stroke="#f00" stroke-width="2.6"/>
<circle cx="637.25" cy="366.50" r="3.3" fill="none" stroke="#f00" stroke-width="2.6"/>
<circle cx="646.64" cy="366.50" r="3.3" fill="none" stroke="#f00" stroke-width="2.6"/>
<circle cx="656.03" cy="366.50" r="3.3" fill="none" stroke="#f00" stroke-width="2.6"/>
<circle cx="665.42" cy="360.88" r="3.3" fill="none" stroke="#f00" stroke-width="2.6"/>
<circle cx="674.81" cy="344.00" r="3.3" fill="none" stroke="#f00" stroke-width="2.6"/>
<circle cx="684.21" cy="366.50" r="3.3" fill="none" stroke="#f00" stroke-width="2.6"/>
<circle cx="693.60" cy="356.00" r="3.3" fill="none" stroke="#f00" stroke-width="2.6"/>
<circle cx="702.99" cy="372.88" r="3.3" fill="none" stroke="#f00" stroke-width="2.6"/>
<circle cx="712.38" cy="366.50" r="3.3" fill="none" stroke="#f00" stroke-width="2.6"/>
<circle cx="721.77" cy="360.88" r="3.3" fill="none" stroke="#f00" stroke-width="2.6"/>
<circle cx="731.16" cy="379.63" r="3.3" fill="none" stroke="#f00" stroke-width="2.6"/>
<circle cx="740.55" cy="347.75" r="3.3" fill="none" stroke="#f00" stroke-width="2.6"/>
<circle cx="749.94" cy="379.63" r="3.3" fill="none" stroke="#f00" stroke-width="2.6"/>
<circle cx="759.33" cy="369.13" r="3.3" fill="none" stroke="#f00" stroke-width="2.6"/>
<circle cx="768.73" cy="351.88" r="3.3" fill="none" stroke="#f00" stroke-width="2.6"/>
<circle cx="778.12" cy="351.88" r="3.3" fill="none" stroke="#f00" stroke-width="2.6"/>
<circle cx="787.51" cy="396.88" r="3.3" fill="none" stroke="#f00" stroke-width="2.6"/>
<circle cx="796.90" cy="347.75" r="3.3" fill="none" stroke="#f00" stroke-width="2.6"/>
<circle cx="806.29" cy="347.75" r="3.3" fill="none" stroke="#f00" stroke-width="2.6"/>
<circle cx="815.68" cy="366.50" r="3.3" fill="none" stroke="#f00" stroke-width="2.6"/>
<circle cx="825.07" cy="387.50" r="3.3" fill="none" stroke="#f00" stroke-width="2.6"/>
<circle cx="834.46" cy="366.50" r="3.3" fill="none" stroke="#f00" stroke-width="2.6"/>
<circle cx="843.85" cy="351.88" r="3.3" fill="none" stroke="#f00" stroke-width="2.6"/>
<circle cx="853.24" cy="360.88" r="3.3" fill="none" stroke="#f00" stroke-width="2.6"/>
<circle cx="862.63" cy="344.00" r="3.3" fill="none" stroke="#f00" stroke-width="2.6"/>
<circle cx="872.03" cy="372.88" r="3.3" fill="none" stroke="#f00" stroke-width="2.6"/>
<circle cx="881.42" cy="366.50" r="3.3" fill="none" stroke="#f00" stroke-width="2.6"/>
<circle cx="890.81" cy="372.88" r="3.3" fill="none" stroke="#f00" stroke-width="2.6"/>
<circle cx="900.20" cy="366.50" r="3.3" fill="none" stroke="#f00" stroke-width="2.6"/>
<circle cx="909.59" cy="366.50" r="3.3" fill="none" stroke="#f00" stroke-width="2.6"/>
<circle cx="918.98" cy="372.88" r="3.3" fill="none" stroke="#f00" stroke-width="2.6"/>
<circle cx="928.37" cy="387.50" r="3.3" fill="none" stroke="#f00" stroke-width="2.6"/>
<circle cx="937.76" cy="344.00" r="3.3" fill="none" stroke="#f00" stroke-width="2.6"/>
<circle cx="947.15" cy="372.88" r="3.3" fill="none" stroke="#f00" stroke-width="2.6"/>
<circle cx="956.54" cy="372.88" r="3.3" fill="none" stroke="#f00" stroke-width="2.6"/>
<circle cx="965.94" cy="337.25" r="3.3" fill="none" stroke="#f00" stroke-width="2.6"/>
<circle cx="975.33" cy="396.88" r="3.3" fill="none" stroke="#f00" stroke-width="2.6"/>
<circle cx="984.72" cy="339.69" r="3.3" fill="none" stroke="#f00" stroke-width="2.6"/>
<circle cx="994.11" cy="333.50" r="3.3" fill="none" stroke="#f00" stroke-width="2.6"/>
<circle cx="1003.50" cy="360.88" r="3.3" fill="none" stroke="#f00" stroke-width="2.6"/>
<rect x="719.5" y="28.5" width="265.0" height="143.0" fill="#fff" stroke="#222" stroke-width="1"/>
<path d="M725.3 48.2H757.6" stroke="#f0f" stroke-width="3"/>
<path d="M741.40 42.00L745.20 48.20L741.40 54.40L737.60 48.20Z" fill="#f0f"/>
<path d="M725.5 82.5H757" stroke="#000" stroke-width="2"/>
<circle cx="741.60" cy="82.50" r="3.0" fill="#000"/>
<path d="M725 117.5H757.6" stroke="#00f" stroke-width="2" stroke-dasharray="1.5 3.37"/>
<rect x="739.20" y="115.20" width="4.6" height="4.6" fill="none" stroke="#00f" stroke-width="2.4"/>
<path d="M725.5 152H732M738 152H745M750.5 152H757.5" stroke="#f00" stroke-width="2"/>
<circle cx="741.60" cy="152.00" r="3.3" fill="none" stroke="#f00" stroke-width="2.6"/>
<text transform="translate(761.20 56.20) scale(1.0 1.08)" font-size="21.1">Probability = 50%</text>
<text transform="translate(761.20 90.50) scale(1.0 1.08)" font-size="21.1">Probability = 75%<tspan dy="3">−</tspan><tspan dy="-3">25%</tspan></text>
<text transform="translate(761.20 125.50) scale(1.0 1.08)" font-size="21.1">Probability = 90%<tspan dy="3">−</tspan><tspan dy="-3">10%</tspan></text>
<text transform="translate(761.20 160.00) scale(1.0 1.08)" font-size="21.1">Probability = 99%<tspan dy="3">−</tspan><tspan dy="-3">1%</tspan></text>
</svg></body></html>
